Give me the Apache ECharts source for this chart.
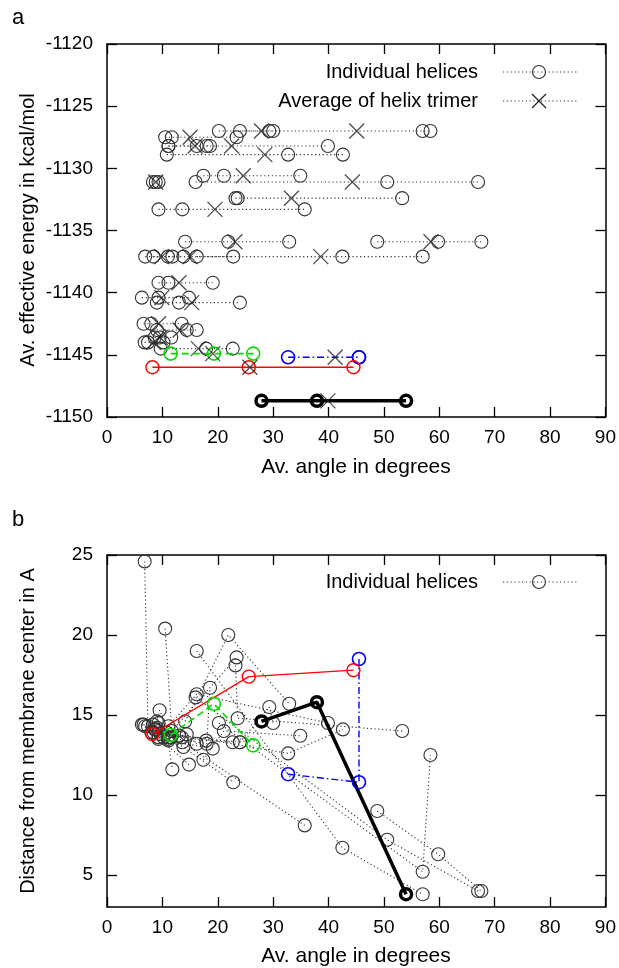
<!DOCTYPE html>
<html><head><meta charset="utf-8">
<script src="https://cdn.jsdelivr.net/npm/echarts@6/dist/echarts.min.js"></script>
<style>html,body{margin:0;padding:0;background:#fff}#c{width:619px;height:968px}</style>
</head><body><div id="c"></div>
<script>
// ---------- DATA ----------
// Tick labels
const angleTicks = [0, 10, 20, 30, 40, 50, 60, 70, 80, 90];
const energyTicks = [-1150, -1145, -1140, -1135, -1130, -1125, -1120];
const distTicks = [5, 10, 15, 20, 25];

// Grey (dotted) trimers: angle of each of the three helices (deg)
const trimerAngles = [
  [24.0, 29.3, 30.0], [20.2, 57.0, 58.4], [10.5, 11.7, 23.4], [11.1, 18.0, 18.6],
  [11.1, 16.2, 39.9], [10.8, 32.7, 42.6], [17.4, 21.1, 34.9], [8.3, 8.8, 9.3],
  [16.0, 50.6, 67.0], [23.2, 23.6, 53.3], [9.3, 13.6, 35.7], [14.1, 21.9, 32.9],
  [48.8, 59.8, 67.6], [16.2, 42.5, 57.0], [6.9, 11.0, 11.8], [8.4, 13.8, 22.8],
  [9.3, 11.1, 19.1], [6.3, 9.3, 14.8], [9.0, 13.0, 24.0], [6.6, 8.0, 13.5],
  [9.0, 14.4, 16.2], [8.6, 9.5, 11.6], [6.8, 7.4, 10.2], [9.7, 17.9, 22.7]
];
// Av. effective energy of each trimer (kcal/mol)
const trimerEnergy = [
  -1127.0, -1127.0, -1127.5, -1128.2,
  -1128.2, -1128.9, -1130.6, -1131.1,
  -1131.1, -1132.4, -1133.3, -1135.9,
  -1135.9, -1137.1, -1137.1, -1137.1,
  -1139.2, -1140.4, -1140.8, -1142.5,
  -1143.0, -1143.6, -1144.0, -1144.5
];
// Average angle of each trimer (X markers)
const trimerAvgAngle = [
  27.9, 45.1, 15.0, 15.9,
  22.5, 28.5, 24.6, 8.8,
  44.3, 33.3, 19.5, 23.1,
  58.5, 38.6, 9.9, 15.0,
  13.0, 9.9, 15.3, 9.3,
  13.2, 9.6, 8.4, 16.5
];
// Distance from membrane center of each helix (A)
const trimerDistance = [
  [13.3, 15.5, 14.5], [14.5, 5.2, 12.5], [20.4, 14.0, 18.6], [13.6, 13.2, 16.7],
  [14.3, 16.3, 14.5], [13.9, 12.6, 14.1], [12.2, 14.0, 13.7], [14.4, 14.1, 14.5],
  [16.1, 7.2, 4.0], [18.1, 14.8, 14.0], [13.5, 13.3, 8.1], [14.6, 20.0, 15.7],
  [9.0, 6.3, 4.0], [19.0, 6.7, 3.8], [14.3, 13.5, 11.6], [13.9, 13.0, 10.8],
  [14.0, 13.4, 12.9], [14.4, 13.6, 11.9], [14.2, 13.7, 13.3], [14.4, 13.9, 13.6],
  [14.6, 13.8, 13.2], [14.1, 15.3, 13.6], [24.6, 14.3, 13.6], [13.8, 13.4, 13.3]
];

// Highlighted trimers
const redAngles = [8.2, 25.6, 44.5];
const redEnergy = -1146.0;
const redAvg = 25.8;
const redDistance = [13.8, 17.4, 17.8];

const greenAngles = [11.5, 19.3, 26.4];
const greenEnergy = -1144.9;
const greenAvg = 19.1;
const greenDistance = [13.75, 15.7, 13.1];

const blueAngles = [32.7, 45.5, 45.5];
const blueEnergy = -1145.2;
const blueAvg = 41.2;
const blueDistance = [11.3, 10.8, 18.5];

const blackAngles = [27.9, 37.9, 54.0];
const blackEnergy = -1148.7;
const blackAvg = 39.9;
const blackDistance = [14.6, 15.8, 3.8];

// ---------- CHART ----------
const FONT = '"Liberation Sans", Arial, Helvetica, sans-serif';
const chart = echarts.init(document.getElementById('c'), null, {renderer: 'canvas'});

const GREY = '#333';
const DOT = [1.2, 2.6];
const XPATH = 'path://M0,0L10,10M10,0L0,10';
const plain = v => String(v);

function xAx(grid, pos, showLabel) {
  return {
    type: 'value', gridIndex: grid, position: pos,
    min: angleTicks[0], max: angleTicks[angleTicks.length - 1], interval: 10,
    axisLine: {show: true, onZero: false, lineStyle: {color: '#000', width: 1.5}},
    axisTick: {show: true, inside: true, length: 10, lineStyle: {color: '#000', width: 1.3}},
    axisLabel: {show: showLabel, formatter: plain, fontFamily: FONT, fontSize: 19, color: '#000', margin: 11},
    splitLine: {show: false}
  };
}
function yAxEnergy(pos, showLabel) {
  return {
    type: 'value', gridIndex: 0, position: pos,
    min: energyTicks[0], max: energyTicks[energyTicks.length - 1], interval: 5,
    axisLine: {show: true, onZero: false, lineStyle: {color: '#000', width: 1.5}},
    axisTick: {show: true, inside: true, length: 10, lineStyle: {color: '#000', width: 1.3}},
    axisLabel: {show: showLabel, formatter: plain, fontFamily: FONT, fontSize: 19, color: '#000', margin: 14},
    splitLine: {show: false}
  };
}
function yAxDist(pos, showLabel) {
  return {
    type: 'value', gridIndex: 1, position: pos, min: 3, max: 25,
    axisLine: {show: true, onZero: false, lineStyle: {color: '#000', width: 1.5}},
    axisTick: {show: true, inside: true, length: 10, customValues: distTicks, lineStyle: {color: '#000', width: 1.3}},
    axisLabel: {show: showLabel, customValues: distTicks, formatter: plain, fontFamily: FONT, fontSize: 19, color: '#000', margin: 14},
    splitLine: {show: false}
  };
}

function trimerLine(xi, yi, pts, color, lineType, lineWidth, symSize, symBorder, z) {
  return {
    type: 'line', xAxisIndex: xi, yAxisIndex: yi, data: pts,
    symbol: 'circle', symbolSize: symSize, showSymbol: true, showAllSymbol: true,
    itemStyle: {color: 'rgba(0,0,0,0)', borderColor: color, borderWidth: symBorder},
    lineStyle: {color: color, type: lineType, width: lineWidth},
    emphasis: {disabled: true}, silent: true, animation: false, z: z
  };
}
function xMarks(pts, color, z) {
  return {
    type: 'scatter', xAxisIndex: 0, yAxisIndex: 0, data: pts,
    symbol: XPATH, symbolSize: 15, symbolKeepAspect: true,
    itemStyle: {color: 'none', borderColor: color, borderWidth: 1.3},
    emphasis: {disabled: true}, silent: true, animation: false, z: z
  };
}

const series = [];
// Panel a: grey trimers
trimerAngles.forEach((angs, i) => {
  series.push(trimerLine(0, 0, angs.map(a => [a, trimerEnergy[i]]), GREY, DOT, 1.1, 13, 1.1, 2));
});
series.push(xMarks(trimerAvgAngle.map((a, i) => [a, trimerEnergy[i]]), '#222', 3));
// Panel a: highlighted
const hl = [
  {ang: greenAngles, e: greenEnergy, avg: greenAvg, d: greenDistance, color: '#00dd00', type: [7, 4], w: 1.6, sb: 1.6, ss: 13},
  {ang: blueAngles, e: blueEnergy, avg: blueAvg, d: blueDistance, color: '#0000ff', type: [7, 3, 1.5, 3], w: 1.4, sb: 1.6, ss: 13},
  {ang: redAngles, e: redEnergy, avg: redAvg, d: redDistance, color: '#ff0000', type: 'solid', w: 1.3, sb: 1.4, ss: 13},
  {ang: blackAngles, e: blackEnergy, avg: blackAvg, d: blackDistance, color: '#000000', type: 'solid', w: 3.5, sb: 3.5, ss: 11}
];
hl.forEach(h => {
  series.push(trimerLine(0, 0, h.ang.map(a => [a, h.e]), h.color, h.type, h.w, h.ss, h.sb, 4));
});
series.push(xMarks(hl.map(h => [h.avg, h.e]), '#222', 5));

// Panel b: grey trimers
trimerAngles.forEach((angs, i) => {
  series.push(trimerLine(2, 2, angs.map((a, k) => [a, trimerDistance[i][k]]), GREY, DOT, 1.1, 13, 1.1, 2));
});
hl.forEach(h => {
  series.push(trimerLine(2, 2, h.ang.map((a, k) => [a, h.d[k]]), h.color, h.type, h.w, h.ss, h.sb, 4));
});

const txt = (x, y, s, size, align, rot) => ({
  type: 'text', x: x, y: y, rotation: rot || 0, silent: true, z: 10,
  style: {text: s, fill: '#000', font: size + 'px ' + FONT, align: align, verticalAlign: 'middle',
          textAlign: align, textVerticalAlign: 'middle'}
});
const dotted = (x1, x2, y) => ({
  type: 'line', silent: true, z: 10, shape: {x1: x1, y1: y, x2: x2, y2: y},
  style: {stroke: GREY, lineWidth: 1.1, lineDash: DOT}
});
const ring = (cx, cy) => ({
  type: 'circle', silent: true, z: 10, shape: {cx: cx, cy: cy, r: 6.5},
  style: {fill: 'none', stroke: GREY, lineWidth: 1.1}
});
const cross = (cx, cy) => ([
  {type: 'line', silent: true, z: 10, shape: {x1: cx - 7, y1: cy - 7, x2: cx + 7, y2: cy + 7}, style: {stroke: '#222', lineWidth: 1.3}},
  {type: 'line', silent: true, z: 10, shape: {x1: cx - 7, y1: cy + 7, x2: cx + 7, y2: cy - 7}, style: {stroke: '#222', lineWidth: 1.3}}
]);

const graphic = [
  txt(12, 18, 'a', 22, 'left'),
  txt(12, 520, 'b', 22, 'left'),
  txt(356, 467, 'Av. angle in degrees', 21, 'center'),
  txt(356, 956, 'Av. angle in degrees', 21, 'center'),
  txt(28, 230, 'Av. effective energy in kcal/mol', 20, 'center', Math.PI / 2),
  txt(28, 731, 'Distance from membrane center in A', 20, 'center', Math.PI / 2),
  // legend panel a
  txt(478, 72, 'Individual helices', 20, 'right'),
  dotted(503, 577, 72), ring(539, 72),
  txt(478, 101, 'Average of helix trimer', 20, 'right'),
  dotted(503, 577, 101),
  ...cross(539, 101),
  // legend panel b
  txt(478, 582, 'Individual helices', 20, 'right'),
  dotted(503, 577, 582), ring(539, 582)
];

chart.setOption({
  backgroundColor: '#fff',
  animation: false,
  grid: [
    {left: 107, top: 44, width: 499, height: 373},
    {left: 107, top: 555, width: 500, height: 352}
  ],
  xAxis: [xAx(0, 'bottom', true), xAx(0, 'top', false), xAx(1, 'bottom', true), xAx(1, 'top', false)],
  yAxis: [yAxEnergy('left', true), yAxEnergy('right', false), yAxDist('left', true), yAxDist('right', false)],
  series: series,
  graphic: graphic
});
</script></body></html>
